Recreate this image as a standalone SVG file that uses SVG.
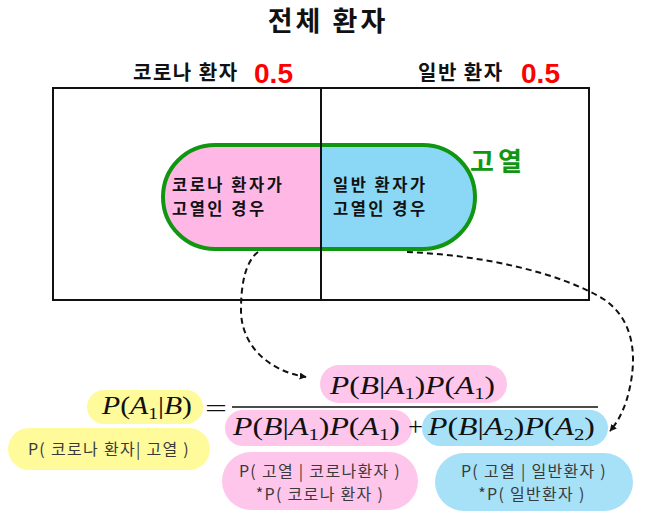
<svg xmlns="http://www.w3.org/2000/svg" width="651" height="530" viewBox="0 0 651 530">
<defs>
<style>
.ko{font-family:"Noto Sans CJK KR","Noto Sans",sans-serif}
.b{font-weight:bold}
.title{font-size:27px;fill:#111;letter-spacing:3px}
.lbl{font-size:20px;fill:#111;letter-spacing:1.5px}
.red{font-family:"Liberation Sans",Arial,sans-serif;font-weight:bold;font-size:28px;fill:#FF0000}
.in{font-size:16.5px;fill:#111;letter-spacing:2.5px}
.note{font-size:16px;fill:#3a3a3a;letter-spacing:1.3px}
.m{font-family:"Liberation Serif","Times New Roman",serif;font-size:26px;fill:#111}
.i{font-style:italic}
.s{font-size:17px}
.con{fill:none;stroke:#111;stroke-width:2;stroke-dasharray:6 4}
.pink{fill:#FFC6EB}
.blue{fill:#A6E1F7}
.yel{fill:#FFFB9A}
</style>
<marker id="ah" viewBox="0 0 10 10" refX="9" refY="5" markerWidth="7" markerHeight="7" orient="auto" markerUnits="userSpaceOnUse">
<path d="M0,0 L10,5 L0,10 Z" fill="#111"/>
</marker>
</defs>
<rect width="651" height="530" fill="#fff"/>

<g id="title"><text class="ko b title" x="328" y="31" text-anchor="middle">전체 환자</text></g>

<g id="labels">
<text class="ko b lbl" x="133" y="80">코로나 환자</text>
<text class="red" x="254" y="83" textLength="39" lengthAdjust="spacingAndGlyphs">0.5</text>
<text class="ko b lbl" x="418" y="80">일반 환자</text>
<text class="red" x="521" y="83" textLength="39" lengthAdjust="spacingAndGlyphs">0.5</text>
</g>

<g id="fever">
<path d="M321,145 H215 A52,52 0 0 0 215,249 H321 Z" fill="#FFB8E6"/>
<path d="M321,145 H423 A52,52 0 0 1 423,249 H321 Z" fill="#8AD8F5"/>
<rect x="163" y="145" width="312" height="104" rx="52" fill="none" stroke="#119611" stroke-width="4"/>
<text class="ko b" x="470" y="171" font-size="26" fill="#119611" letter-spacing="4">고열</text>
</g>

<g id="population">
<rect x="53" y="88" width="536" height="212" fill="none" stroke="#111" stroke-width="2"/>
<line x1="321" y1="88" x2="321" y2="300" stroke="#111" stroke-width="2"/>
</g>

<g id="covid-fever"><text class="ko b in"><tspan x="172" y="191">코로나 환자가</tspan><tspan x="172" y="215">고열인 경우</tspan></text></g>
<g id="normal-fever"><text class="ko b in"><tspan x="333" y="191">일반 환자가</tspan><tspan x="333" y="215">고열인 경우</tspan></text></g>

<g id="connectors">
<path class="con" d="M258,252 C245,262 241,285 241,310 C241,345 268,371 306,377" marker-end="url(#ah)"/>
<path class="con" d="M407,252 C480,255 560,272 605,300 C640,325 636,370 626,402 C621,416 616,424 610,431" marker-end="url(#ah)"/>
</g>

<g id="lhs">
<rect class="yel" x="87" y="390" width="116" height="34" rx="17"/>
<text class="m" x="102" y="414" textLength="90" lengthAdjust="spacingAndGlyphs"><tspan class="i">P</tspan>(<tspan class="i">A</tspan><tspan class="s" dy="5">1</tspan><tspan dy="-5">|</tspan><tspan class="i">B</tspan>)</text>
<text class="m" x="205" y="417" font-size="30" textLength="22" lengthAdjust="spacingAndGlyphs">=</text>
</g>

<g id="lhs-note">
<rect class="yel" x="8" y="428" width="202" height="42" rx="21"/>
<text class="ko note" x="109" y="455" text-anchor="middle">P( 코로나 환자| 고열 )</text>
</g>

<g id="fraction">
<line x1="232" y1="407" x2="598" y2="407" stroke="#111" stroke-width="1.6"/>
</g>

<g id="numerator">
<rect class="pink" x="320" y="365" width="187" height="38" rx="19"/>
<text class="m" x="330" y="394" textLength="165" lengthAdjust="spacingAndGlyphs"><tspan class="i">P</tspan>(<tspan class="i">B</tspan>|<tspan class="i">A</tspan><tspan class="s" dy="5">1</tspan><tspan dy="-5">)</tspan><tspan class="i">P</tspan>(<tspan class="i">A</tspan><tspan class="s" dy="5">1</tspan><tspan dy="-5">)</tspan></text>
</g>

<g id="denominator-1">
<rect class="pink" x="225" y="410" width="187" height="36" rx="18"/>
<text class="m" x="233" y="435" textLength="167" lengthAdjust="spacingAndGlyphs"><tspan class="i">P</tspan>(<tspan class="i">B</tspan>|<tspan class="i">A</tspan><tspan class="s" dy="5">1</tspan><tspan dy="-5">)</tspan><tspan class="i">P</tspan>(<tspan class="i">A</tspan><tspan class="s" dy="5">1</tspan><tspan dy="-5">)</tspan></text>
</g>

<g id="plus"><text class="m" x="408" y="435" textLength="15" lengthAdjust="spacingAndGlyphs">+</text></g>

<g id="denominator-2">
<rect class="blue" x="422" y="410" width="186" height="36" rx="18"/>
<text class="m" x="428" y="435" textLength="167" lengthAdjust="spacingAndGlyphs"><tspan class="i">P</tspan>(<tspan class="i">B</tspan>|<tspan class="i">A</tspan><tspan class="s" dy="5">2</tspan><tspan dy="-5">)</tspan><tspan class="i">P</tspan>(<tspan class="i">A</tspan><tspan class="s" dy="5">2</tspan><tspan dy="-5">)</tspan></text>
</g>

<g id="covid-note">
<rect class="pink" x="222" y="452" width="196" height="58" rx="29"/>
<text class="ko note" text-anchor="middle"><tspan x="320" y="477">P( 고열 | 코로나환자 )</tspan><tspan x="320" y="500">*P( 코로나 환자 )</tspan></text>
</g>

<g id="normal-note">
<rect class="blue" x="435" y="453" width="198" height="58" rx="29"/>
<text class="ko note" text-anchor="middle"><tspan x="534" y="477">P( 고열 | 일반환자 )</tspan><tspan x="532" y="500">*P( 일반환자 )</tspan></text>
</g>
</svg>
